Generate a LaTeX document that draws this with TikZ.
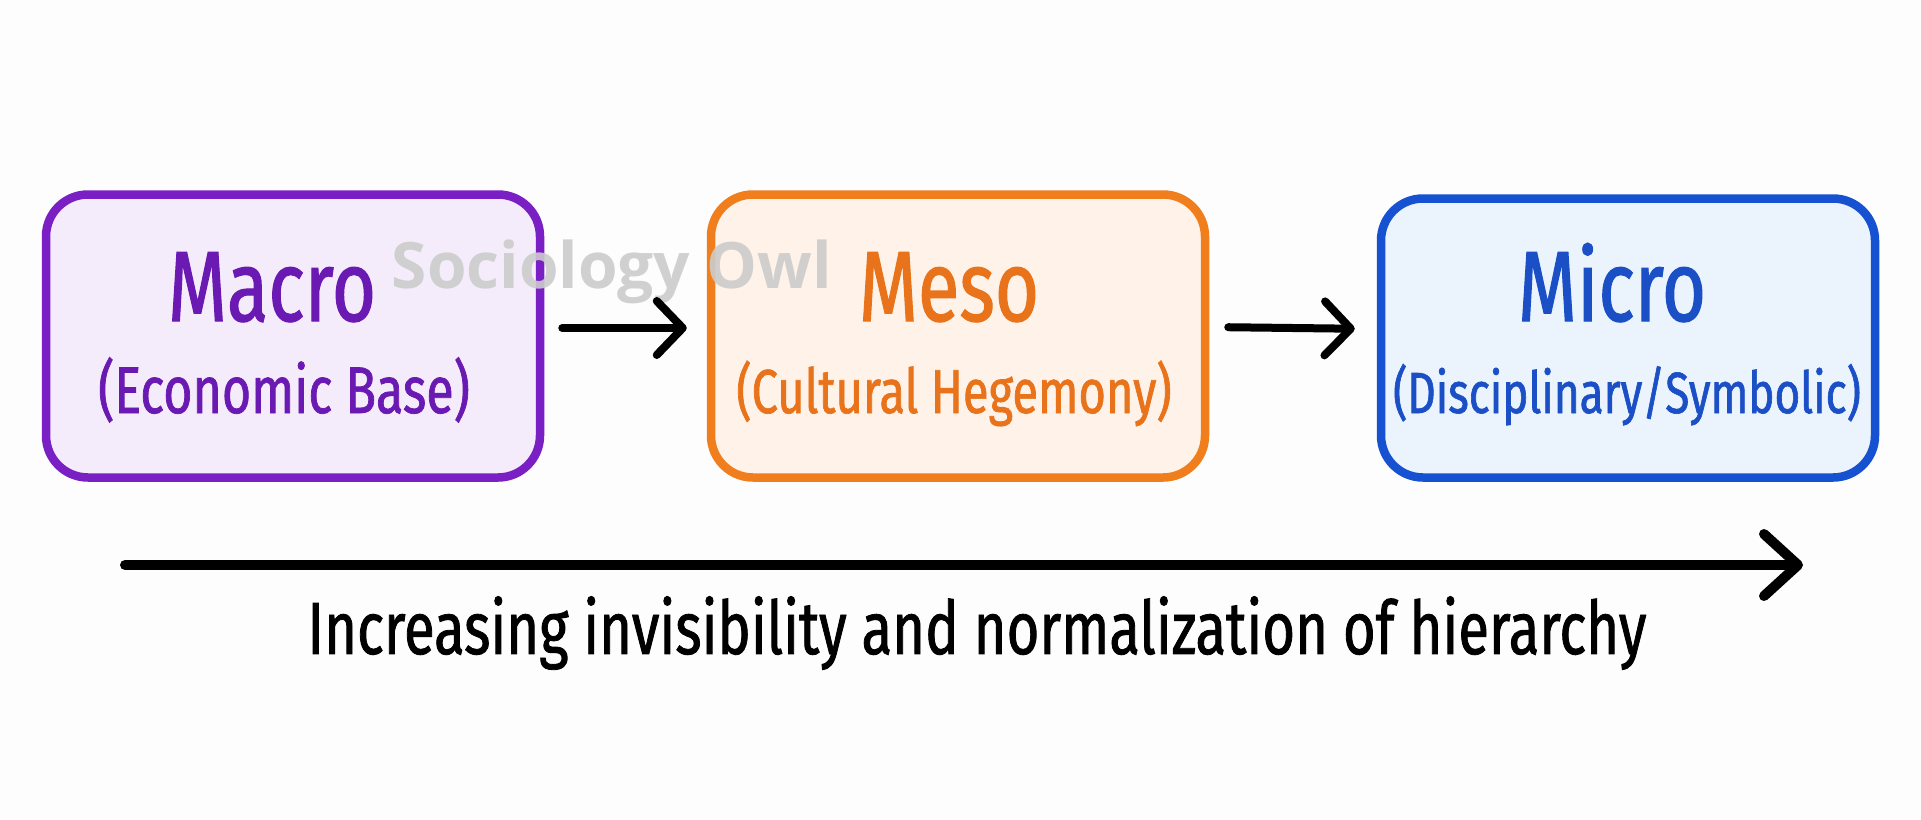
\documentclass[tikz,border=0pt]{standalone}
\usepackage{fontspec}
\setmainfont[FakeStretch=0.76, FakeBold=1.1]{Fira Sans}
\newfontfamily\markfont{Open Sans}
\usetikzlibrary{arrows.meta,positioning}

\definecolor{macroline}{HTML}{7A1FC4}
\definecolor{macrofill}{HTML}{F4ECFB}
\definecolor{macrotext}{HTML}{6A1AB2}
\definecolor{mesoline}{HTML}{F07E1C}
\definecolor{mesofill}{HTML}{FFF2E8}
\definecolor{mesotext}{HTML}{E8731B}
\definecolor{microline}{HTML}{1651D2}
\definecolor{microfill}{HTML}{EBF3FD}
\definecolor{microtext}{HTML}{1A4FC6}
\definecolor{pagebg}{HTML}{FDFDFD}

\begin{document}
\begin{tikzpicture}[x=1pt,y=-1pt,
level/.style={rectangle, rounded corners=42pt, line width=8.5pt, minimum width=494pt, minimum height=283pt, inner sep=0pt},
title/.style={anchor=base, inner sep=0pt, font=\fontsize{100}{100}\selectfont},
sub/.style={anchor=base, inner sep=0pt, font=\fontsize{62}{62}\selectfont},
link/.style={line width=8pt, line cap=round, -{Straight Barb[round, length=26pt, width=54pt]}},
axis/.style={line width=10pt, line cap=round, -{Straight Barb[round, length=34pt, width=62pt]}},
info/.style={inner sep=0pt}]

%% local variables
\def \boxy {336}
\def \titley {321}
\def \suby {413}

\fill[pagebg] (0,0) rectangle (1921,819);
\useasboundingbox (0,0) rectangle (1921,819);

%% the three levels
\node[level, draw=macroline, fill=macrofill] (macro) at (293,\boxy) {};
\node[level, draw=mesoline, fill=mesofill] (meso) at (958,\boxy) {};
\node[level, draw=microline, fill=microfill, minimum height=279pt] (micro) at (1628,338) {};

%% titles and subtitles
\node[title, text=macrotext] (macro-t) at (272,\titley) {Macro};
\node[sub, text=macrotext, font=\fontsize{66}{66}\selectfont] (macro-s) at (284,\suby) {(Economic Base)};
\node[title, text=mesotext] (meso-t) at (949,\titley) {Meso};
\node[sub, text=mesotext] (meso-s) at (954,\suby) {(Cultural Hegemony)};
\node[title, text=microtext] (micro-t) at (1612,\titley) {Micro};
\node[sub, text=microtext, font=\fontsize{58}{62}\selectfont] (micro-s) at (1627,\suby) {(Disciplinary/Symbolic)};

%% watermark
\node[info, text=black!20, opacity=0.9, font=\markfont\bfseries\fontsize{64}{64}\selectfont] (mark) at (612,272) {Sociology Owl};

%% arrows between levels
\draw[link, shorten <=18pt, shorten >=20pt] ([yshift=8pt]macro.east) -- ([yshift=8pt]meso.west);
\draw[link, shorten <=19pt, shorten >=22pt] ([yshift=9pt]meso.east) -- ([yshift=9pt]micro.west);

%% long axis
\coordinate (axis-start) at (125,565);
\coordinate (axis-end) at (1803,565);
\draw[axis] (axis-start) -- (axis-end);
\node[info, font=\fontsize{74}{74}\selectfont] (caption) at (977,633) {Increasing invisibility and normalization of hierarchy};

\end{tikzpicture}
\end{document}
